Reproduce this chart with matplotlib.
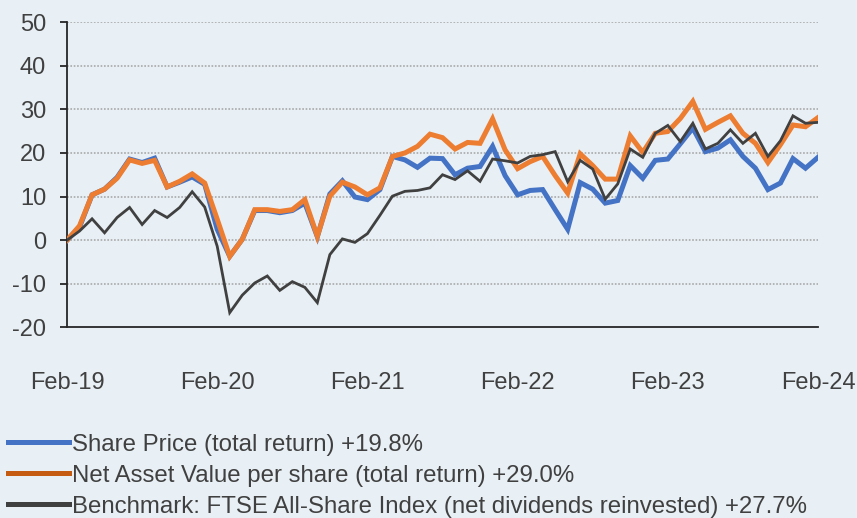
import matplotlib.pyplot as plt
from matplotlib.lines import Line2D

# monthly total return (%), Feb-19 .. Feb-24
share_price = [0, 3.0, 10.4, 11.7, 14.4, 18.6, 17.8, 18.8, 12.2, 13.3, 14.5,
               12.8, 2.5, -3.7, 0.2, 6.8, 6.8, 6.3, 6.8, 8.5, 0.8,
               10.6, 13.6, 9.9, 9.3, 11.6, 19.2, 18.4, 16.7, 18.8, 18.7,
               15.0, 16.5, 16.9, 21.5, 14.8, 10.4, 11.4, 11.6, 7.0, 2.5,
               13.2, 11.7, 8.5, 9.1, 17.1, 14.2, 18.3, 18.6, 22.1, 25.7,
               20.3, 21.1, 23.0, 19.2, 16.5, 11.6, 13.1, 18.7, 16.5, 19.0]
nav = [0, 3.3, 10.4, 11.7, 14.2, 18.4, 17.6, 18.3, 12.2, 13.5, 15.2,
       13.1, 4.8, -3.7, 0.2, 7.0, 7.0, 6.6, 7.0, 9.3, 0.9,
       10.1, 13.3, 12.2, 10.4, 12.0, 19.2, 20.0, 21.5, 24.3, 23.5,
       20.9, 22.4, 22.2, 27.8, 20.7, 16.4, 18.0, 19.2, 14.8, 10.8,
       19.8, 17.1, 14.0, 14.0, 23.9, 20.1, 24.5, 24.9, 27.9, 31.8,
       25.4, 27.0, 28.5, 24.5, 22.2, 17.8, 21.9, 26.4, 26.0, 28.1]
benchmark = [0, 2.1, 4.9, 1.7, 5.2, 7.5, 3.6, 6.8, 5.2, 7.5, 11.1,
             7.6, -1.4, -16.6, -12.6, -9.8, -8.2, -11.5, -9.5, -10.8, -14.3,
             -3.3, 0.3, -0.5, 1.5, 5.7, 10.1, 11.2, 11.4, 12.0, 15.0,
             13.9, 15.9, 13.5, 18.6, 18.2, 17.7, 19.2, 19.6, 20.3, 13.4,
             18.3, 16.3, 9.4, 12.9, 20.9, 19.0, 24.5, 26.3, 22.6, 26.8,
             20.9, 22.2, 25.3, 22.2, 24.5, 19.2, 22.8, 28.5, 26.8, 27.0]
tick_labels = ['Feb-19', 'Feb-20', 'Feb-21', 'Feb-22', 'Feb-23', 'Feb-24']
labels = ['Share Price (total return) +19.8%',
          'Net Asset Value per share (total return) +29.0%',
          'Benchmark: FTSE All-Share Index (net dividends reinvested) +27.7%']

bg = '#E8F0F5'
txt = '#404040'
blue = '#4472C4'
orange = '#ED7D31'
dark = '#404040'

plt.rcParams['font.family'] = ['Liberation Sans', 'DejaVu Sans']
plt.rcParams['axes.unicode_minus'] = False

fig = plt.figure(figsize=(8.57, 5.18), dpi=100, facecolor=bg)
ax = fig.add_axes([0.0782, 0.3678, 0.8763, 0.5897], facecolor=bg)

months = range(len(share_price))
ax.plot(months, share_price, color=blue, lw=3.6, solid_joinstyle='miter', zorder=3)
ax.plot(months, nav, color=orange, lw=3.6, solid_joinstyle='miter', zorder=4)
ax.plot(months, benchmark, color=dark, lw=2.0, solid_joinstyle='miter', zorder=5)

ax.set_xlim(0, 60)
ax.set_ylim(-20, 50)
ax.set_yticks(range(-20, 51, 10))
ax.set_xticks(range(0, 61, 12))
ax.set_xticklabels(tick_labels)

for v in range(-10, 51, 10):
    ax.axhline(v, color='#a3a3a3', lw=1.1, ls=(0, (1.1, 1.1)), zorder=1)

for s in ['top', 'right']:
    ax.spines[s].set_visible(False)
ax.spines['left'].set_color('#262626')
ax.spines['bottom'].set_color('#262626')
ax.spines['left'].set_linewidth(1.3)
ax.spines['bottom'].set_linewidth(1.3)

ax.tick_params(axis='y', length=5, width=1.3, color='#262626', pad=10,
               labelsize=17, labelcolor=txt)
ax.tick_params(axis='x', length=0, pad=32, labelsize=17, labelcolor=txt)

handles = [Line2D([], [], color=blue, lw=3.6),
           Line2D([], [], color='#C55A11', lw=3.6),
           Line2D([], [], color=dark, lw=3.6)]
fig.legend(handles, labels, loc='upper left', bbox_to_anchor=(0.0093, 0.163),
           frameon=False, fontsize=17.3, labelcolor=txt, borderpad=0,
           borderaxespad=0, handlelength=2.55, handletextpad=0.12,
           labelspacing=0.38)

fig.savefig('out.png', dpi=100, facecolor=bg)
